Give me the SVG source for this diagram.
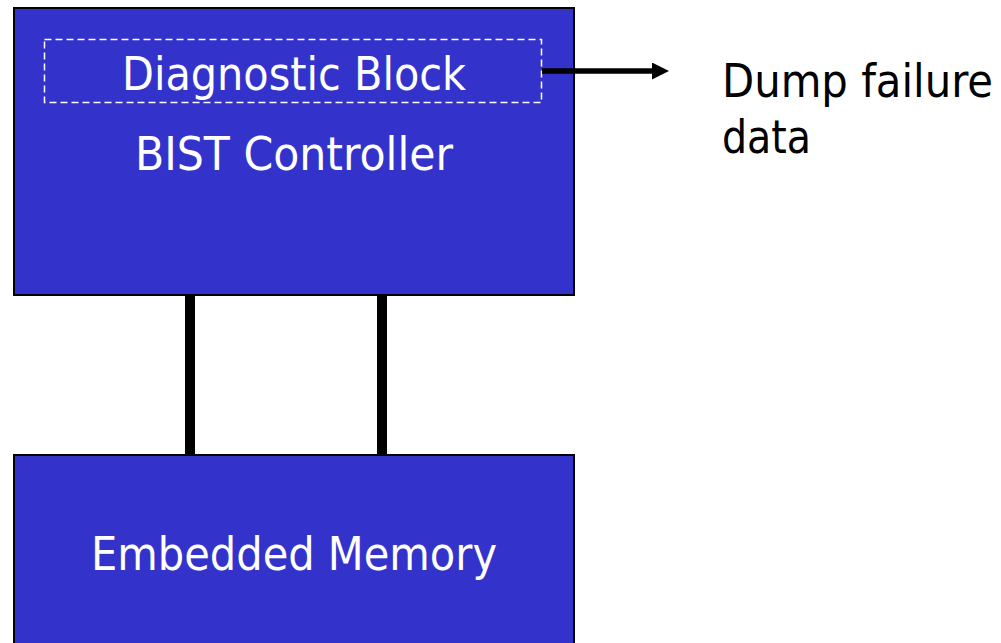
<svg xmlns="http://www.w3.org/2000/svg" width="1001" height="643" viewBox="0 0 1001 643">
<defs>
<style>
.box{fill:#3333CC;stroke:#000;stroke-width:2}
.lbl{font-family:"DejaVu Sans Condensed","DejaVu Sans",sans-serif;font-size:46px;fill:#fff;text-anchor:middle}
.ext{font-family:"DejaVu Sans Condensed","DejaVu Sans",sans-serif;font-size:46px;fill:#000}
.bus{stroke:#000;stroke-width:10;fill:none}
</style>
<marker id="ah" markerWidth="17" markerHeight="17" refX="0" refY="8.5" orient="auto" markerUnits="userSpaceOnUse">
<path d="M0,0 L17,8.5 L0,17 Z" fill="#000"/>
</marker>
</defs>
<rect width="1001" height="643" fill="#fff"/>
<g id="bist">
<rect class="box" x="14" y="8" width="560" height="287"/>
<rect x="44.5" y="39.5" width="497" height="63" fill="none" stroke="#fff" stroke-width="1.5" stroke-dasharray="7,4"/>
<text class="lbl" x="294" y="90" textLength="344" lengthAdjust="spacingAndGlyphs">Diagnostic Block</text>
<text class="lbl" x="294" y="170" textLength="318" lengthAdjust="spacingAndGlyphs">BIST Controller</text>
</g>
<g id="memory">
<rect class="box" x="14" y="455" width="560" height="200"/>
<text class="lbl" x="294" y="570" textLength="406" lengthAdjust="spacingAndGlyphs">Embedded Memory</text>
</g>
<g id="dump">
<text class="ext" x="722" y="97" textLength="271" lengthAdjust="spacingAndGlyphs">Dump failure</text>
<text class="ext" x="722" y="153" textLength="89" lengthAdjust="spacingAndGlyphs">data</text>
</g>
<g id="connectors">
<line class="bus" x1="190" y1="296" x2="190" y2="454"/>
<line class="bus" x1="382" y1="296" x2="382" y2="454"/>
<line x1="542" y1="71" x2="652" y2="71" stroke="#000" stroke-width="5.5" marker-end="url(#ah)"/>
</g>
</svg>
